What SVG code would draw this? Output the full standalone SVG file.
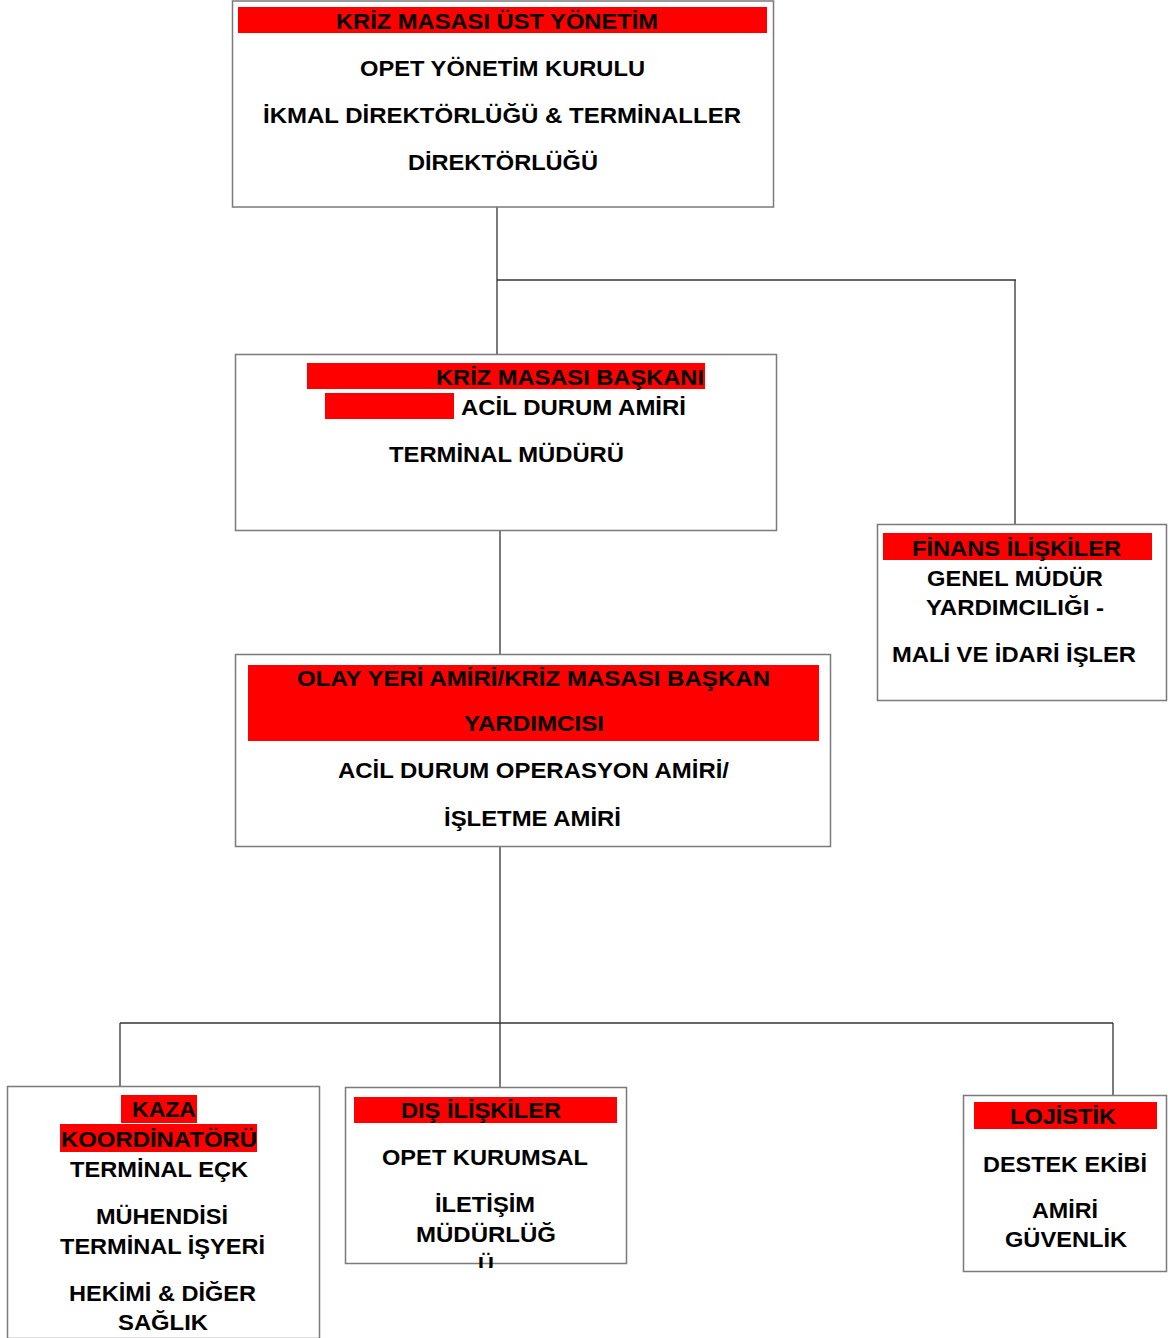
<svg xmlns="http://www.w3.org/2000/svg" width="1168" height="1338" viewBox="0 0 1168 1338">
<style>
.box{fill:#fff;stroke:#7a7a7a;stroke-width:1.5}
.bar{fill:#ff0000}
.t{font-family:"Liberation Sans",Arial,sans-serif;font-weight:bold;font-size:22px;fill:#000}
.c{stroke:#333;stroke-width:1.3;fill:none}
</style>
<defs>
<clipPath id="clipU"><rect x="340" y="1080" width="300" height="188"/></clipPath>
</defs>
<rect width="1168" height="1338" fill="#fff"/>
<g id="connectors">
<line class="c" x1="497" y1="207" x2="497" y2="355"/>
<line class="c" x1="497" y1="280" x2="1016" y2="280"/>
<line class="c" x1="1015" y1="280" x2="1015" y2="524"/>
<line class="c" x1="500" y1="530" x2="500" y2="655"/>
<line class="c" x1="500" y1="847" x2="500" y2="1087"/>
<line class="c" x1="120" y1="1023" x2="1113" y2="1023"/>
<line class="c" x1="120" y1="1023" x2="120" y2="1087"/>
<line class="c" x1="1113" y1="1023" x2="1113" y2="1095"/>
</g>
<g id="n-ust-yonetim">
<rect class="box" x="232.5" y="1" width="541" height="206"/>
<rect class="bar" x="238" y="7" width="529" height="26"/>
<text class="t" x="336" y="29" textLength="322" lengthAdjust="spacingAndGlyphs">KRİZ MASASI ÜST YÖNETİM</text>
<text class="t" x="360" y="76" textLength="285" lengthAdjust="spacingAndGlyphs">OPET YÖNETİM KURULU</text>
<text class="t" x="263" y="123" textLength="478" lengthAdjust="spacingAndGlyphs">İKMAL DİREKTÖRLÜĞÜ &amp; TERMİNALLER</text>
<text class="t" x="408" y="170" textLength="190" lengthAdjust="spacingAndGlyphs">DİREKTÖRLÜĞÜ</text>
</g>
<g id="n-baskan">
<rect class="box" x="235.5" y="354.5" width="541" height="176"/>
<rect class="bar" x="307" y="363" width="398" height="26"/>
<rect class="bar" x="325" y="393" width="129" height="26"/>
<text class="t" x="436" y="385" textLength="268" lengthAdjust="spacingAndGlyphs">KRİZ MASASI BAŞKANI</text>
<text class="t" x="461" y="415" textLength="225" lengthAdjust="spacingAndGlyphs">ACİL DURUM AMİRİ</text>
<text class="t" x="389" y="462" textLength="235" lengthAdjust="spacingAndGlyphs">TERMİNAL MÜDÜRÜ</text>
</g>
<g id="n-olay-yeri">
<rect class="box" x="235.5" y="654.5" width="595" height="192"/>
<rect class="bar" x="248" y="665" width="571" height="76"/>
<text class="t" x="297" y="686" textLength="473" lengthAdjust="spacingAndGlyphs">OLAY YERİ AMİRİ/KRİZ MASASI BAŞKAN</text>
<text class="t" x="464" y="731" textLength="140" lengthAdjust="spacingAndGlyphs">YARDIMCISI</text>
<text class="t" x="338" y="778" textLength="391" lengthAdjust="spacingAndGlyphs">ACİL DURUM OPERASYON AMİRİ/</text>
<text class="t" x="444" y="826" textLength="177" lengthAdjust="spacingAndGlyphs">İŞLETME AMİRİ</text>
</g>
<g id="n-finans">
<rect class="box" x="877.5" y="524.5" width="289" height="176"/>
<rect class="bar" x="883" y="533" width="269" height="27"/>
<text class="t" x="912" y="556" textLength="209" lengthAdjust="spacingAndGlyphs">FİNANS İLİŞKİLER</text>
<text class="t" x="927" y="586" textLength="176" lengthAdjust="spacingAndGlyphs">GENEL MÜDÜR</text>
<text class="t" x="926" y="615" textLength="178" lengthAdjust="spacingAndGlyphs">YARDIMCILIĞI -</text>
<text class="t" x="892" y="662" textLength="244" lengthAdjust="spacingAndGlyphs">MALİ VE İDARİ İŞLER</text>
</g>
<g id="n-kaza">
<rect class="box" x="7.5" y="1086.5" width="312" height="252"/>
<rect class="bar" x="121" y="1095" width="76" height="28"/>
<rect class="bar" x="60" y="1124" width="197" height="28"/>
<text class="t" x="132" y="1117" textLength="64" lengthAdjust="spacingAndGlyphs">KAZA</text>
<text class="t" x="61" y="1147" textLength="196" lengthAdjust="spacingAndGlyphs">KOORDİNATÖRÜ</text>
<text class="t" x="70" y="1177" textLength="178" lengthAdjust="spacingAndGlyphs">TERMİNAL EÇK</text>
<text class="t" x="96" y="1224" textLength="132" lengthAdjust="spacingAndGlyphs">MÜHENDİSİ</text>
<text class="t" x="60" y="1254" textLength="205" lengthAdjust="spacingAndGlyphs">TERMİNAL İŞYERİ</text>
<text class="t" x="69" y="1301" textLength="187" lengthAdjust="spacingAndGlyphs">HEKİMİ &amp; DİĞER</text>
<text class="t" x="118" y="1330" textLength="90" lengthAdjust="spacingAndGlyphs">SAĞLIK</text>
</g>
<g id="n-dis-iliskiler">
<rect class="box" x="345.5" y="1087.5" width="281" height="176"/>
<rect class="bar" x="354" y="1097" width="263" height="26"/>
<text class="t" x="401" y="1118" textLength="160" lengthAdjust="spacingAndGlyphs">DIŞ İLİŞKİLER</text>
<text class="t" x="382" y="1165" textLength="206" lengthAdjust="spacingAndGlyphs">OPET KURUMSAL</text>
<text class="t" x="435" y="1212" textLength="100" lengthAdjust="spacingAndGlyphs">İLETİŞİM</text>
<text class="t" x="416" y="1242" textLength="140" lengthAdjust="spacingAndGlyphs">MÜDÜRLÜĞ</text>
<text class="t" x="478" y="1272" clip-path="url(#clipU)">Ü</text>
</g>
<g id="n-lojistik">
<rect class="box" x="963.5" y="1095.5" width="203" height="176"/>
<rect class="bar" x="974" y="1102" width="183" height="27"/>
<text class="t" x="1010" y="1124" textLength="106" lengthAdjust="spacingAndGlyphs">LOJİSTİK</text>
<text class="t" x="983" y="1172" textLength="164" lengthAdjust="spacingAndGlyphs">DESTEK EKİBİ</text>
<text class="t" x="1032" y="1218" textLength="66" lengthAdjust="spacingAndGlyphs">AMİRİ</text>
<text class="t" x="1005" y="1247" textLength="122" lengthAdjust="spacingAndGlyphs">GÜVENLİK</text>
</g>
</svg>
